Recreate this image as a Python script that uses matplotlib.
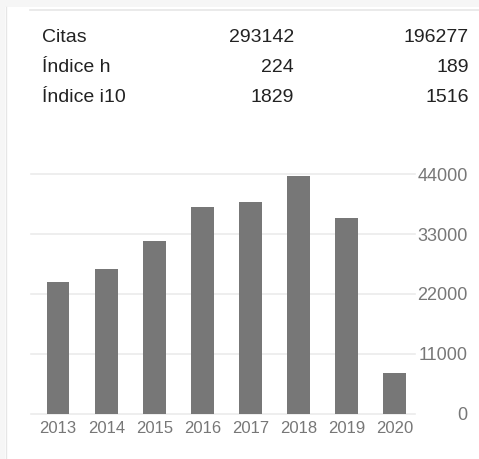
import matplotlib
matplotlib.use("Agg")
import matplotlib.pyplot as plt
from matplotlib.patches import Rectangle
from matplotlib.lines import Line2D

years = ["2013", "2014", "2015", "2016", "2017", "2018", "2019", "2020"]
citations = [24200, 26600, 31800, 38000, 38900, 43600, 35900, 7450]
ytick_values = [0, 11000, 22000, 33000, 44000]

row_labels = ["Citas", "Índice h", "Índice i10"]
col_all = ["293142", "224", "1829"]
col_since = ["196277", "189", "1516"]

W, H = 479, 459
fig = plt.figure(figsize=(W / 100, H / 100), dpi=100)
fig.patch.set_facecolor("white")
plt.rcParams["font.family"] = ["Liberation Sans", "DejaVu Sans"]

def fx(px):
    return px / W

def fy(py):
    return 1 - py / H

# page frame decorations
fig.add_artist(Rectangle((0, fy(7)), 1, 7 / H, transform=fig.transFigure,
                         facecolor="#f6f6f6", edgecolor="none"))
fig.add_artist(Rectangle((0, 0), fx(5), 1, transform=fig.transFigure,
                         facecolor="#f6f6f6", edgecolor="none"))
fig.add_artist(Line2D([fx(6), fx(6)], [0, fy(7)], transform=fig.transFigure,
                      color="#e6e6e6", lw=1))
fig.add_artist(Line2D([fx(30), 1], [fy(10), fy(10)], transform=fig.transFigure,
                      color="#e6e6e6", lw=1.2))

# header table
row_y = [37, 68, 98]
for lab, a, b, y in zip(row_labels, col_all, col_since, row_y):
    fig.text(fx(42), fy(y), lab, ha="left", va="center", fontsize=14, color="#222222")
    fig.text(fx(294), fy(y), a, ha="right", va="center", fontsize=14, color="#222222")
    fig.text(fx(469), fy(y), b, ha="right", va="center", fontsize=14, color="#222222")

# bar chart
left, right = 30.7, 415
top, bottom = 174, 414
ax = fig.add_axes([fx(left), fy(bottom), (right - left) / W, (bottom - top) / H])
x = list(range(len(years)))
ax.bar(x, citations, width=0.47, color="#777777", zorder=2)
ax.set_xlim(-0.57, 7.42)
ax.set_ylim(0, 44000)
for v in ytick_values:
    ax.axhline(v, color="#ebebeb", lw=1.2, zorder=1, clip_on=False)
for s in ax.spines.values():
    s.set_visible(False)
ax.set_facecolor("none")
ax.set_xticks(x)
ax.set_xticklabels(years, fontsize=12, color="#777777")
ax.tick_params(axis="x", length=0, pad=5)
ax.yaxis.tick_right()
ax.set_yticks(ytick_values)
ax.set_yticklabels([str(v) for v in ytick_values], fontsize=13, color="#777777")
for t in ax.get_yticklabels():
    t.set_horizontalalignment("right")
ax.tick_params(axis="y", length=0, pad=38)

fig.savefig("out.png", dpi=100)
